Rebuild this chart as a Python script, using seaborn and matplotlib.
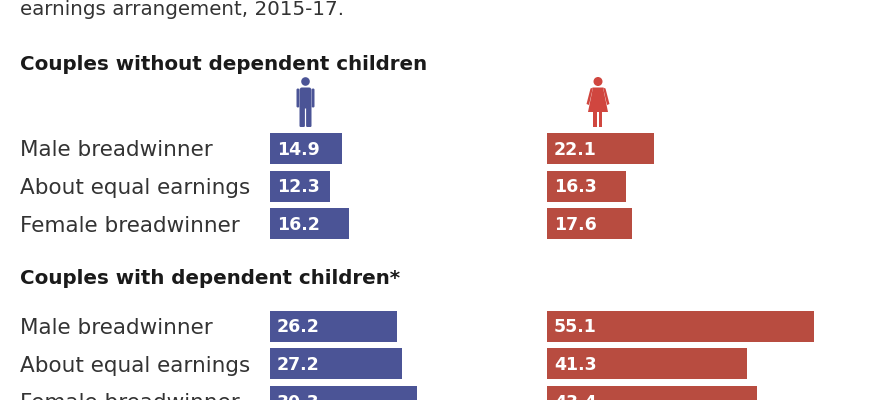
import matplotlib
matplotlib.use("Agg")
import matplotlib.pyplot as plt
import matplotlib.patches as mpatches
from matplotlib.transforms import Affine2D, blended_transform_factory
import pandas as pd
import seaborn as sns

# data
arrangements = ["Male breadwinner", "About equal earnings", "Female breadwinner"]
men_no_children = [14.9, 12.3, 16.2]
women_no_children = [22.1, 16.3, 17.6]
men_children = [26.2, 27.2, 30.3]
women_children = [55.1, 41.3, 43.4]

title_text = "earnings arrangement, 2015-17."
section_titles = ["Couples without dependent children",
                  "Couples with dependent children*"]

W, H = 870, 400
BLUE = "#4b5496"
RED = "#b84c40"
RED_ICON = "#d0463f"
TEXT = "#333333"
PX_PER_UNIT = 4.85
ROW_STEP = 37.6

sns.set_style("white")
plt.rcParams["font.family"] = ["DejaVu Sans"]

fig = plt.figure(figsize=(W / 100, H / 100), dpi=100)
px = Affine2D().scale(1 / W, -1 / H).translate(0, 1) + fig.transFigure


def px_axes(left, top, width, height):
    return fig.add_axes([left / W, 1 - (top + height) / H, width / W, height / H])


def draw_panel(ax, values, color, xmax, with_labels=False):
    df = pd.DataFrame({"arrangement": arrangements, "share": values})
    sns.barplot(data=df, x="share", y="arrangement", ax=ax, color=color,
                saturation=1, width=31 / ROW_STEP, errorbar=None, orient="h",
                linewidth=0)
    ax.set_xlim(0, xmax)
    ax.set_ylim(len(arrangements) - 0.5, -0.5)
    ax.axis("off")
    for i, v in enumerate(values):
        ax.annotate(f"{v:.1f}", xy=(0, i), xytext=(5, -4.6), textcoords="offset points",
                    color="white", fontweight="bold", fontsize=12.5,
                    ha="left", va="baseline", annotation_clip=False)
    if with_labels:
        tr = blended_transform_factory(fig.transFigure, ax.transData)
        for i, lab in enumerate(arrangements):
            ax.annotate(lab, xy=(20 / W, i), xycoords=tr, xytext=(0, -5.7),
                        textcoords="offset points", color=TEXT, fontsize=15.5,
                        ha="left", va="baseline", annotation_clip=False)


def section(top, men, women):
    h = ROW_STEP * len(arrangements)
    ax_m = px_axes(270, top, 40 * PX_PER_UNIT, h)
    ax_w = px_axes(547, top, 60 * PX_PER_UNIT, h)
    draw_panel(ax_m, men, BLUE, 40, with_labels=True)
    draw_panel(ax_w, women, RED, 60)


section(148.5 - ROW_STEP / 2, men_no_children, women_no_children)
section(326 - ROW_STEP / 2, men_children, women_children)

# titles
fig.text(20 / W, 1 - 15 / H, title_text, fontsize=14.3, color=TEXT, va="baseline")
fig.text(20 / W, 1 - 70 / H, section_titles[0], fontsize=14.3, fontweight="bold",
         color="#1a1a1a", va="baseline")
fig.text(20 / W, 1 - 284 / H, section_titles[1], fontsize=14.3, fontweight="bold",
         color="#1a1a1a", va="baseline")


# pictograms (decoration)
def add(p):
    p.set_transform(px)
    fig.add_artist(p)


def man_icon(cx, color):
    add(mpatches.Circle((cx, 81.5), 4.3, color=color, lw=0))
    add(mpatches.FancyBboxPatch((cx - 6, 87.5), 12, 21, boxstyle="round,pad=0,rounding_size=2.5",
                                color=color, lw=0))
    for dx in (-9, 6.2):
        add(mpatches.FancyBboxPatch((cx + dx, 88.5), 2.8, 19, boxstyle="round,pad=0,rounding_size=1.3",
                                    color=color, lw=0))
    for dx in (-6, 0.6):
        add(mpatches.FancyBboxPatch((cx + dx, 106), 5.4, 21, boxstyle="round,pad=0,rounding_size=1.2",
                                    color=color, lw=0))


def woman_icon(cx, color):
    add(mpatches.Circle((cx, 81.5), 4.5, color=color, lw=0))
    add(mpatches.Polygon([(cx - 5, 87.5), (cx + 5, 87.5), (cx + 10, 112), (cx - 10, 112)],
                         closed=True, color=color, lw=0))
    add(mpatches.Polygon([(cx - 5, 87.5), (cx - 7.5, 88.5), (cx - 11.5, 104), (cx - 9, 105)],
                         closed=True, color=color, lw=0))
    add(mpatches.Polygon([(cx + 5, 87.5), (cx + 7.5, 88.5), (cx + 11.5, 104), (cx + 9, 105)],
                         closed=True, color=color, lw=0))
    for dx in (-4.5, 0.8):
        add(mpatches.Rectangle((cx + dx, 110), 3.7, 17, color=color, lw=0))


man_icon(305.5, BLUE)
woman_icon(598, RED_ICON)

fig.savefig("out.png", dpi=100)
